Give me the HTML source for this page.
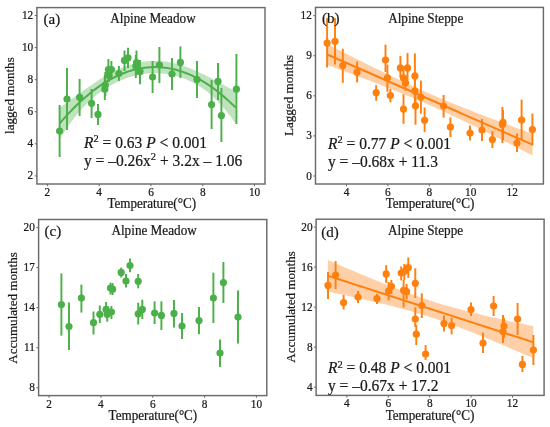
<!DOCTYPE html>
<html><head><meta charset="utf-8"><style>
html,body{margin:0;padding:0;background:#fff;width:550px;height:427px;overflow:hidden}
svg{display:block;will-change:transform}
text{font-family:"Liberation Serif",serif;fill:#1a1a1a;stroke:#1a1a1a;stroke-width:0.22px}
.tk{font-size:11.3px}
.ti{font-size:13.2px}
.pl{font-size:15px}
.ax{font-size:13.1px}
.eq{font-size:15.5px}
</style></head><body>
<svg width="550" height="427" viewBox="0 0 550 427">
<rect width="550" height="427" fill="#fff"/>
<rect x="36.9" y="7.6" width="228.10" height="176.40" fill="none" stroke="#6a6a6a" stroke-width="1.45"/>
<line x1="47.40" y1="184.0" x2="47.40" y2="186.2" stroke="#6a6a6a" stroke-width="1"/>
<line x1="99.18" y1="184.0" x2="99.18" y2="186.2" stroke="#6a6a6a" stroke-width="1"/>
<line x1="150.96" y1="184.0" x2="150.96" y2="186.2" stroke="#6a6a6a" stroke-width="1"/>
<line x1="202.74" y1="184.0" x2="202.74" y2="186.2" stroke="#6a6a6a" stroke-width="1"/>
<line x1="254.52" y1="184.0" x2="254.52" y2="186.2" stroke="#6a6a6a" stroke-width="1"/>
<line x1="34.699999999999996" y1="175.90" x2="36.9" y2="175.90" stroke="#6a6a6a" stroke-width="1"/>
<line x1="34.699999999999996" y1="143.82" x2="36.9" y2="143.82" stroke="#6a6a6a" stroke-width="1"/>
<line x1="34.699999999999996" y1="111.74" x2="36.9" y2="111.74" stroke="#6a6a6a" stroke-width="1"/>
<line x1="34.699999999999996" y1="79.66" x2="36.9" y2="79.66" stroke="#6a6a6a" stroke-width="1"/>
<line x1="34.699999999999996" y1="47.58" x2="36.9" y2="47.58" stroke="#6a6a6a" stroke-width="1"/>
<line x1="34.699999999999996" y1="15.50" x2="36.9" y2="15.50" stroke="#6a6a6a" stroke-width="1"/>
<polygon points="59.57,107.94 62.50,105.79 65.44,103.64 68.37,101.49 71.31,99.35 74.24,97.21 77.17,95.08 80.11,92.95 83.04,90.85 85.98,88.76 88.91,86.70 91.84,84.67 94.78,82.68 97.71,80.74 100.65,78.86 103.58,77.05 106.52,75.31 109.45,73.66 112.38,72.09 115.32,70.62 118.25,69.24 121.19,67.96 124.12,66.79 127.05,65.72 129.99,64.76 132.92,63.90 135.86,63.15 138.79,62.51 141.73,61.97 144.66,61.54 147.59,61.22 150.53,61.01 153.46,60.90 156.40,60.90 159.33,61.01 162.27,61.22 165.20,61.54 168.13,61.96 171.07,62.50 174.00,63.13 176.94,63.87 179.87,64.71 182.80,65.64 185.74,66.66 188.67,67.77 191.61,68.96 194.54,70.22 197.48,71.55 200.41,72.93 203.34,74.36 206.28,75.83 209.21,77.33 212.15,78.85 215.08,80.39 218.02,81.94 220.95,83.50 223.88,85.07 226.82,86.64 229.75,88.21 232.69,89.79 235.62,91.36 235.62,123.73 232.69,119.52 229.75,115.52 226.82,111.74 223.88,108.17 220.95,104.81 218.02,101.66 215.08,98.72 212.15,95.97 209.21,93.42 206.28,91.06 203.34,88.89 200.41,86.89 197.48,85.06 194.54,83.39 191.61,81.87 188.67,80.49 185.74,79.24 182.80,78.12 179.87,77.13 176.94,76.25 174.00,75.49 171.07,74.84 168.13,74.30 165.20,73.87 162.27,73.55 159.33,73.33 156.40,73.23 153.46,73.23 150.53,73.34 147.59,73.55 144.66,73.87 141.73,74.30 138.79,74.84 135.86,75.48 132.92,76.23 129.99,77.09 127.05,78.06 124.12,79.13 121.19,80.32 118.25,81.61 115.32,83.02 112.38,84.55 109.45,86.20 106.52,87.97 103.58,89.88 100.65,91.92 97.71,94.12 94.78,96.46 91.84,98.98 88.91,101.66 85.98,104.53 83.04,107.58 80.11,110.83 77.17,114.28 74.24,117.94 71.31,121.80 68.37,125.87 65.44,130.15 62.50,134.64 59.57,139.35" fill="#4bb049" fill-opacity="0.35"/>
<line x1="59.6" y1="105" x2="59.6" y2="157" stroke="#4bb049" stroke-width="1.95"/>
<line x1="67" y1="68" x2="67" y2="130" stroke="#4bb049" stroke-width="1.95"/>
<line x1="79.6" y1="79" x2="79.6" y2="116" stroke="#4bb049" stroke-width="1.95"/>
<line x1="91.6" y1="89" x2="91.6" y2="118" stroke="#4bb049" stroke-width="1.95"/>
<line x1="98" y1="104" x2="98" y2="125" stroke="#4bb049" stroke-width="1.95"/>
<line x1="104.8" y1="75" x2="104.8" y2="100" stroke="#4bb049" stroke-width="1.95"/>
<line x1="105.3" y1="72" x2="105.3" y2="96" stroke="#4bb049" stroke-width="1.95"/>
<line x1="108.4" y1="59" x2="108.4" y2="80" stroke="#4bb049" stroke-width="1.95"/>
<line x1="111.4" y1="61" x2="111.4" y2="78" stroke="#4bb049" stroke-width="1.95"/>
<line x1="108.8" y1="66" x2="108.8" y2="82" stroke="#4bb049" stroke-width="1.95"/>
<line x1="118.9" y1="66" x2="118.9" y2="81" stroke="#4bb049" stroke-width="1.95"/>
<line x1="124.5" y1="50.5" x2="124.5" y2="71" stroke="#4bb049" stroke-width="1.95"/>
<line x1="128" y1="47.7" x2="128" y2="68" stroke="#4bb049" stroke-width="1.95"/>
<line x1="136.5" y1="50.5" x2="136.5" y2="75" stroke="#4bb049" stroke-width="1.95"/>
<line x1="135.8" y1="55" x2="135.8" y2="78" stroke="#4bb049" stroke-width="1.95"/>
<line x1="140" y1="60" x2="140" y2="84.3" stroke="#4bb049" stroke-width="1.95"/>
<line x1="152.6" y1="61" x2="152.6" y2="93" stroke="#4bb049" stroke-width="1.95"/>
<line x1="159.4" y1="47" x2="159.4" y2="83" stroke="#4bb049" stroke-width="1.95"/>
<line x1="172" y1="58" x2="172" y2="90" stroke="#4bb049" stroke-width="1.95"/>
<line x1="180.4" y1="46.4" x2="180.4" y2="78" stroke="#4bb049" stroke-width="1.95"/>
<line x1="197" y1="61" x2="197" y2="98" stroke="#4bb049" stroke-width="1.95"/>
<line x1="211.6" y1="80" x2="211.6" y2="129" stroke="#4bb049" stroke-width="1.95"/>
<line x1="218" y1="63" x2="218" y2="100" stroke="#4bb049" stroke-width="1.95"/>
<line x1="221.4" y1="88" x2="221.4" y2="142" stroke="#4bb049" stroke-width="1.95"/>
<line x1="236.4" y1="54" x2="236.4" y2="124" stroke="#4bb049" stroke-width="1.95"/>
<circle cx="59.6" cy="131" r="3.6" fill="#4bb049"/>
<circle cx="67" cy="99" r="3.6" fill="#4bb049"/>
<circle cx="79.6" cy="97.3" r="3.6" fill="#4bb049"/>
<circle cx="91.6" cy="103.3" r="3.6" fill="#4bb049"/>
<circle cx="98" cy="114.4" r="3.6" fill="#4bb049"/>
<circle cx="104.8" cy="89.2" r="3.6" fill="#4bb049"/>
<circle cx="105.3" cy="85" r="3.6" fill="#4bb049"/>
<circle cx="108.4" cy="69.5" r="3.6" fill="#4bb049"/>
<circle cx="111.4" cy="69.5" r="3.6" fill="#4bb049"/>
<circle cx="108.8" cy="75.2" r="3.6" fill="#4bb049"/>
<circle cx="118.9" cy="73.5" r="3.6" fill="#4bb049"/>
<circle cx="124.5" cy="60.4" r="3.6" fill="#4bb049"/>
<circle cx="128" cy="57.8" r="3.6" fill="#4bb049"/>
<circle cx="136.5" cy="62.5" r="3.6" fill="#4bb049"/>
<circle cx="135.8" cy="66" r="3.6" fill="#4bb049"/>
<circle cx="140" cy="71.6" r="3.6" fill="#4bb049"/>
<circle cx="152.6" cy="77" r="3.6" fill="#4bb049"/>
<circle cx="159.4" cy="65" r="3.6" fill="#4bb049"/>
<circle cx="172" cy="74" r="3.6" fill="#4bb049"/>
<circle cx="180.4" cy="62.4" r="3.6" fill="#4bb049"/>
<circle cx="197" cy="79.6" r="3.6" fill="#4bb049"/>
<circle cx="211.6" cy="104.6" r="3.6" fill="#4bb049"/>
<circle cx="218" cy="81.4" r="3.6" fill="#4bb049"/>
<circle cx="221.4" cy="115.6" r="3.6" fill="#4bb049"/>
<circle cx="236.4" cy="89.2" r="3.6" fill="#4bb049"/>
<polyline points="59.57,123.65 62.50,120.22 65.44,116.90 68.37,113.68 71.31,110.57 74.24,107.57 77.17,104.68 80.11,101.89 83.04,99.22 85.98,96.64 88.91,94.18 91.84,91.82 94.78,89.57 97.71,87.43 100.65,85.39 103.58,83.46 106.52,81.64 109.45,79.93 112.38,78.32 115.32,76.82 118.25,75.43 121.19,74.14 124.12,72.96 127.05,71.89 129.99,70.92 132.92,70.07 135.86,69.32 138.79,68.67 141.73,68.14 144.66,67.71 147.59,67.39 150.53,67.17 153.46,67.06 156.40,67.06 159.33,67.17 162.27,67.38 165.20,67.70 168.13,68.13 171.07,68.67 174.00,69.31 176.94,70.06 179.87,70.92 182.80,71.88 185.74,72.95 188.67,74.13 191.61,75.41 194.54,76.81 197.48,78.31 200.41,79.91 203.34,81.63 206.28,83.45 209.21,85.37 212.15,87.41 215.08,89.55 218.02,91.80 220.95,94.16 223.88,96.62 226.82,99.19 229.75,101.87 232.69,104.65 235.62,107.55" fill="none" stroke="#4bb049" stroke-width="2"/>
<rect x="315.5" y="7.4" width="227.90" height="176.60" fill="none" stroke="#6a6a6a" stroke-width="1.45"/>
<line x1="346.50" y1="184.0" x2="346.50" y2="186.2" stroke="#6a6a6a" stroke-width="1"/>
<line x1="387.92" y1="184.0" x2="387.92" y2="186.2" stroke="#6a6a6a" stroke-width="1"/>
<line x1="429.34" y1="184.0" x2="429.34" y2="186.2" stroke="#6a6a6a" stroke-width="1"/>
<line x1="470.76" y1="184.0" x2="470.76" y2="186.2" stroke="#6a6a6a" stroke-width="1"/>
<line x1="512.18" y1="184.0" x2="512.18" y2="186.2" stroke="#6a6a6a" stroke-width="1"/>
<line x1="313.3" y1="176.00" x2="315.5" y2="176.00" stroke="#6a6a6a" stroke-width="1"/>
<line x1="313.3" y1="135.92" x2="315.5" y2="135.92" stroke="#6a6a6a" stroke-width="1"/>
<line x1="313.3" y1="95.84" x2="315.5" y2="95.84" stroke="#6a6a6a" stroke-width="1"/>
<line x1="313.3" y1="55.76" x2="315.5" y2="55.76" stroke="#6a6a6a" stroke-width="1"/>
<line x1="313.3" y1="15.68" x2="315.5" y2="15.68" stroke="#6a6a6a" stroke-width="1"/>
<polygon points="327.24,44.01 330.66,45.76 334.08,47.51 337.50,49.25 340.92,50.99 344.34,52.73 347.76,54.46 351.18,56.19 354.60,57.91 358.03,59.63 361.45,61.35 364.87,63.06 368.29,64.76 371.71,66.46 375.13,68.15 378.55,69.83 381.97,71.51 385.39,73.17 388.81,74.83 392.23,76.47 395.65,78.11 399.07,79.73 402.49,81.35 405.91,82.95 409.33,84.53 412.75,86.10 416.18,87.66 419.60,89.20 423.02,90.73 426.44,92.24 429.86,93.74 433.28,95.22 436.70,96.69 440.12,98.14 443.54,99.57 446.96,100.99 450.38,102.40 453.80,103.80 457.22,105.18 460.64,106.55 464.06,107.91 467.48,109.26 470.90,110.60 474.33,111.93 477.75,113.25 481.17,114.57 484.59,115.88 488.01,117.18 491.43,118.47 494.85,119.76 498.27,121.04 501.69,122.32 505.11,123.60 508.53,124.86 511.95,126.13 515.37,127.39 518.79,128.65 522.21,129.91 525.63,131.16 529.06,132.41 532.48,133.66 532.48,155.45 529.06,153.70 525.63,151.95 522.21,150.20 518.79,148.46 515.37,146.71 511.95,144.97 508.53,143.24 505.11,141.51 501.69,139.78 498.27,138.06 494.85,136.34 491.43,134.63 488.01,132.92 484.59,131.22 481.17,129.53 477.75,127.84 474.33,126.16 470.90,124.49 467.48,122.83 464.06,121.18 460.64,119.54 457.22,117.91 453.80,116.29 450.38,114.68 446.96,113.09 443.54,111.51 440.12,109.95 436.70,108.40 433.28,106.86 429.86,105.34 426.44,103.84 423.02,102.35 419.60,100.87 416.18,99.42 412.75,97.97 409.33,96.54 405.91,95.13 402.49,93.73 399.07,92.34 395.65,90.96 392.23,89.60 388.81,88.24 385.39,86.90 381.97,85.56 378.55,84.23 375.13,82.92 371.71,81.61 368.29,80.30 364.87,79.00 361.45,77.71 358.03,76.43 354.60,75.15 351.18,73.87 347.76,72.60 344.34,71.33 340.92,70.07 337.50,68.80 334.08,67.55 330.66,66.29 327.24,65.04" fill="#ff7f0f" fill-opacity="0.37"/>
<line x1="327.1" y1="18.1" x2="327.1" y2="67.5" stroke="#ff7f0f" stroke-width="1.95"/>
<line x1="335" y1="18.1" x2="335" y2="64.6" stroke="#ff7f0f" stroke-width="1.95"/>
<line x1="342.8" y1="48.7" x2="342.8" y2="82.8" stroke="#ff7f0f" stroke-width="1.95"/>
<line x1="357.1" y1="61.5" x2="357.1" y2="82.4" stroke="#ff7f0f" stroke-width="1.95"/>
<line x1="376.2" y1="85.2" x2="376.2" y2="100.8" stroke="#ff7f0f" stroke-width="1.95"/>
<line x1="385.5" y1="44.6" x2="385.5" y2="72" stroke="#ff7f0f" stroke-width="1.95"/>
<line x1="387.4" y1="64.6" x2="387.4" y2="91.8" stroke="#ff7f0f" stroke-width="1.95"/>
<line x1="390.4" y1="89" x2="390.4" y2="102.3" stroke="#ff7f0f" stroke-width="1.95"/>
<line x1="400.4" y1="56" x2="400.4" y2="77.9" stroke="#ff7f0f" stroke-width="1.95"/>
<line x1="403.5" y1="70" x2="403.5" y2="86" stroke="#ff7f0f" stroke-width="1.95"/>
<line x1="403.5" y1="94.4" x2="403.5" y2="123.7" stroke="#ff7f0f" stroke-width="1.95"/>
<line x1="405.5" y1="76" x2="405.5" y2="90.8" stroke="#ff7f0f" stroke-width="1.95"/>
<line x1="407.5" y1="53" x2="407.5" y2="80" stroke="#ff7f0f" stroke-width="1.95"/>
<line x1="414.9" y1="53.4" x2="414.9" y2="95" stroke="#ff7f0f" stroke-width="1.95"/>
<line x1="414.9" y1="80" x2="414.9" y2="105" stroke="#ff7f0f" stroke-width="1.95"/>
<line x1="415.5" y1="95" x2="415.5" y2="124.7" stroke="#ff7f0f" stroke-width="1.95"/>
<line x1="420.9" y1="80.5" x2="420.9" y2="113.7" stroke="#ff7f0f" stroke-width="1.95"/>
<line x1="424.6" y1="107.5" x2="424.6" y2="132" stroke="#ff7f0f" stroke-width="1.95"/>
<line x1="443.6" y1="95" x2="443.6" y2="117.6" stroke="#ff7f0f" stroke-width="1.95"/>
<line x1="450.4" y1="117.6" x2="450.4" y2="137" stroke="#ff7f0f" stroke-width="1.95"/>
<line x1="470" y1="125.6" x2="470" y2="140.4" stroke="#ff7f0f" stroke-width="1.95"/>
<line x1="482" y1="119" x2="482" y2="141" stroke="#ff7f0f" stroke-width="1.95"/>
<line x1="492.4" y1="131" x2="492.4" y2="148" stroke="#ff7f0f" stroke-width="1.95"/>
<line x1="502.4" y1="107" x2="502.4" y2="143" stroke="#ff7f0f" stroke-width="1.95"/>
<line x1="503" y1="110" x2="503" y2="140" stroke="#ff7f0f" stroke-width="1.95"/>
<line x1="517" y1="133.6" x2="517" y2="152" stroke="#ff7f0f" stroke-width="1.95"/>
<line x1="521.6" y1="99.6" x2="521.6" y2="140" stroke="#ff7f0f" stroke-width="1.95"/>
<line x1="532.4" y1="113.6" x2="532.4" y2="145.6" stroke="#ff7f0f" stroke-width="1.95"/>
<circle cx="327.1" cy="43.1" r="3.6" fill="#ff7f0f"/>
<circle cx="335" cy="41.3" r="3.6" fill="#ff7f0f"/>
<circle cx="342.8" cy="65.6" r="3.6" fill="#ff7f0f"/>
<circle cx="357.1" cy="72.1" r="3.6" fill="#ff7f0f"/>
<circle cx="376.2" cy="92.7" r="3.6" fill="#ff7f0f"/>
<circle cx="385.5" cy="60" r="3.6" fill="#ff7f0f"/>
<circle cx="387.4" cy="77.8" r="3.6" fill="#ff7f0f"/>
<circle cx="390.4" cy="95.5" r="3.6" fill="#ff7f0f"/>
<circle cx="400.4" cy="67.9" r="3.6" fill="#ff7f0f"/>
<circle cx="403.5" cy="77.9" r="3.6" fill="#ff7f0f"/>
<circle cx="403.5" cy="109.1" r="3.6" fill="#ff7f0f"/>
<circle cx="405.5" cy="82.8" r="3.6" fill="#ff7f0f"/>
<circle cx="407.5" cy="67.9" r="3.6" fill="#ff7f0f"/>
<circle cx="414.9" cy="75.9" r="3.6" fill="#ff7f0f"/>
<circle cx="414.9" cy="90.8" r="3.6" fill="#ff7f0f"/>
<circle cx="415.5" cy="105.8" r="3.6" fill="#ff7f0f"/>
<circle cx="420.9" cy="97.2" r="3.6" fill="#ff7f0f"/>
<circle cx="424.6" cy="120.3" r="3.6" fill="#ff7f0f"/>
<circle cx="443.6" cy="106" r="3.6" fill="#ff7f0f"/>
<circle cx="450.4" cy="127" r="3.6" fill="#ff7f0f"/>
<circle cx="470" cy="133" r="3.6" fill="#ff7f0f"/>
<circle cx="482" cy="130" r="3.6" fill="#ff7f0f"/>
<circle cx="492.4" cy="139.6" r="3.6" fill="#ff7f0f"/>
<circle cx="502.4" cy="124.4" r="3.6" fill="#ff7f0f"/>
<circle cx="503" cy="122.4" r="3.6" fill="#ff7f0f"/>
<circle cx="517" cy="143" r="3.6" fill="#ff7f0f"/>
<circle cx="521.6" cy="120" r="3.6" fill="#ff7f0f"/>
<circle cx="532.4" cy="129.6" r="3.6" fill="#ff7f0f"/>
<polyline points="327.24,54.53 330.66,56.03 334.08,57.53 337.50,59.03 340.92,60.53 344.34,62.03 347.76,63.53 351.18,65.03 354.60,66.53 358.03,68.03 361.45,69.53 364.87,71.03 368.29,72.53 371.71,74.03 375.13,75.53 378.55,77.03 381.97,78.53 385.39,80.03 388.81,81.53 392.23,83.04 395.65,84.54 399.07,86.04 402.49,87.54 405.91,89.04 409.33,90.54 412.75,92.04 416.18,93.54 419.60,95.04 423.02,96.54 426.44,98.04 429.86,99.54 433.28,101.04 436.70,102.54 440.12,104.04 443.54,105.54 446.96,107.04 450.38,108.54 453.80,110.04 457.22,111.54 460.64,113.05 464.06,114.55 467.48,116.05 470.90,117.55 474.33,119.05 477.75,120.55 481.17,122.05 484.59,123.55 488.01,125.05 491.43,126.55 494.85,128.05 498.27,129.55 501.69,131.05 505.11,132.55 508.53,134.05 511.95,135.55 515.37,137.05 518.79,138.55 522.21,140.05 525.63,141.55 529.06,143.06 532.48,144.56" fill="none" stroke="#ff7f0f" stroke-width="2"/>
<rect x="38.6" y="219.5" width="228.20" height="176.10" fill="none" stroke="#6a6a6a" stroke-width="1.45"/>
<line x1="49.10" y1="395.6" x2="49.10" y2="397.8" stroke="#6a6a6a" stroke-width="1"/>
<line x1="100.92" y1="395.6" x2="100.92" y2="397.8" stroke="#6a6a6a" stroke-width="1"/>
<line x1="152.74" y1="395.6" x2="152.74" y2="397.8" stroke="#6a6a6a" stroke-width="1"/>
<line x1="204.56" y1="395.6" x2="204.56" y2="397.8" stroke="#6a6a6a" stroke-width="1"/>
<line x1="256.38" y1="395.6" x2="256.38" y2="397.8" stroke="#6a6a6a" stroke-width="1"/>
<line x1="36.4" y1="387.80" x2="38.6" y2="387.80" stroke="#6a6a6a" stroke-width="1"/>
<line x1="36.4" y1="347.75" x2="38.6" y2="347.75" stroke="#6a6a6a" stroke-width="1"/>
<line x1="36.4" y1="307.70" x2="38.6" y2="307.70" stroke="#6a6a6a" stroke-width="1"/>
<line x1="36.4" y1="267.65" x2="38.6" y2="267.65" stroke="#6a6a6a" stroke-width="1"/>
<line x1="36.4" y1="227.60" x2="38.6" y2="227.60" stroke="#6a6a6a" stroke-width="1"/>
<line x1="61.4" y1="273.4" x2="61.4" y2="335.6" stroke="#4bb049" stroke-width="1.95"/>
<line x1="69" y1="302.6" x2="69" y2="350" stroke="#4bb049" stroke-width="1.95"/>
<line x1="81.4" y1="284.6" x2="81.4" y2="312.6" stroke="#4bb049" stroke-width="1.95"/>
<line x1="93.5" y1="311.5" x2="93.5" y2="334.5" stroke="#4bb049" stroke-width="1.95"/>
<line x1="99.8" y1="305.5" x2="99.8" y2="323" stroke="#4bb049" stroke-width="1.95"/>
<line x1="106.1" y1="302" x2="106.1" y2="317" stroke="#4bb049" stroke-width="1.95"/>
<line x1="107.2" y1="306" x2="107.2" y2="321.7" stroke="#4bb049" stroke-width="1.95"/>
<line x1="110.5" y1="282.7" x2="110.5" y2="294.5" stroke="#4bb049" stroke-width="1.95"/>
<line x1="111.4" y1="306" x2="111.4" y2="319" stroke="#4bb049" stroke-width="1.95"/>
<line x1="112.6" y1="283" x2="112.6" y2="295" stroke="#4bb049" stroke-width="1.95"/>
<line x1="121.2" y1="267.6" x2="121.2" y2="277.5" stroke="#4bb049" stroke-width="1.95"/>
<line x1="126" y1="274" x2="126" y2="287.5" stroke="#4bb049" stroke-width="1.95"/>
<line x1="130" y1="258.5" x2="130" y2="272.2" stroke="#4bb049" stroke-width="1.95"/>
<line x1="138.2" y1="274" x2="138.2" y2="288.3" stroke="#4bb049" stroke-width="1.95"/>
<line x1="138.2" y1="302.7" x2="138.2" y2="324.5" stroke="#4bb049" stroke-width="1.95"/>
<line x1="142.3" y1="299.7" x2="142.3" y2="319" stroke="#4bb049" stroke-width="1.95"/>
<line x1="154.6" y1="301.4" x2="154.6" y2="324" stroke="#4bb049" stroke-width="1.95"/>
<line x1="161.4" y1="301.4" x2="161.4" y2="330" stroke="#4bb049" stroke-width="1.95"/>
<line x1="174" y1="300" x2="174" y2="327.6" stroke="#4bb049" stroke-width="1.95"/>
<line x1="182" y1="313" x2="182" y2="339" stroke="#4bb049" stroke-width="1.95"/>
<line x1="199" y1="307" x2="199" y2="334.3" stroke="#4bb049" stroke-width="1.95"/>
<line x1="213.4" y1="272.6" x2="213.4" y2="323" stroke="#4bb049" stroke-width="1.95"/>
<line x1="220" y1="339.6" x2="220" y2="367" stroke="#4bb049" stroke-width="1.95"/>
<line x1="223.4" y1="262" x2="223.4" y2="303" stroke="#4bb049" stroke-width="1.95"/>
<line x1="238" y1="290.6" x2="238" y2="343.6" stroke="#4bb049" stroke-width="1.95"/>
<circle cx="61.4" cy="304.6" r="3.6" fill="#4bb049"/>
<circle cx="69" cy="326.5" r="3.6" fill="#4bb049"/>
<circle cx="81.4" cy="298" r="3.6" fill="#4bb049"/>
<circle cx="93.5" cy="322.7" r="3.6" fill="#4bb049"/>
<circle cx="99.8" cy="314.3" r="3.6" fill="#4bb049"/>
<circle cx="106.1" cy="309.4" r="3.6" fill="#4bb049"/>
<circle cx="107.2" cy="314.3" r="3.6" fill="#4bb049"/>
<circle cx="110.5" cy="288" r="3.6" fill="#4bb049"/>
<circle cx="111.4" cy="312" r="3.6" fill="#4bb049"/>
<circle cx="112.6" cy="289.2" r="3.6" fill="#4bb049"/>
<circle cx="121.2" cy="272.4" r="3.6" fill="#4bb049"/>
<circle cx="126" cy="281" r="3.6" fill="#4bb049"/>
<circle cx="130" cy="265.5" r="3.6" fill="#4bb049"/>
<circle cx="138.2" cy="281.3" r="3.6" fill="#4bb049"/>
<circle cx="138.2" cy="313.8" r="3.6" fill="#4bb049"/>
<circle cx="142.3" cy="309.4" r="3.6" fill="#4bb049"/>
<circle cx="154.6" cy="313" r="3.6" fill="#4bb049"/>
<circle cx="161.4" cy="315.4" r="3.6" fill="#4bb049"/>
<circle cx="174" cy="313.4" r="3.6" fill="#4bb049"/>
<circle cx="182" cy="326" r="3.6" fill="#4bb049"/>
<circle cx="199" cy="320.6" r="3.6" fill="#4bb049"/>
<circle cx="213.4" cy="298" r="3.6" fill="#4bb049"/>
<circle cx="220" cy="353" r="3.6" fill="#4bb049"/>
<circle cx="223.4" cy="282.6" r="3.6" fill="#4bb049"/>
<circle cx="238" cy="317" r="3.6" fill="#4bb049"/>
<rect x="316.1" y="219.2" width="228.00" height="176.20" fill="none" stroke="#6a6a6a" stroke-width="1.45"/>
<line x1="346.90" y1="395.4" x2="346.90" y2="397.59999999999997" stroke="#6a6a6a" stroke-width="1"/>
<line x1="388.30" y1="395.4" x2="388.30" y2="397.59999999999997" stroke="#6a6a6a" stroke-width="1"/>
<line x1="429.70" y1="395.4" x2="429.70" y2="397.59999999999997" stroke="#6a6a6a" stroke-width="1"/>
<line x1="471.10" y1="395.4" x2="471.10" y2="397.59999999999997" stroke="#6a6a6a" stroke-width="1"/>
<line x1="512.50" y1="395.4" x2="512.50" y2="397.59999999999997" stroke="#6a6a6a" stroke-width="1"/>
<line x1="313.90000000000003" y1="387.10" x2="316.1" y2="387.10" stroke="#6a6a6a" stroke-width="1"/>
<line x1="313.90000000000003" y1="347.10" x2="316.1" y2="347.10" stroke="#6a6a6a" stroke-width="1"/>
<line x1="313.90000000000003" y1="307.10" x2="316.1" y2="307.10" stroke="#6a6a6a" stroke-width="1"/>
<line x1="313.90000000000003" y1="267.10" x2="316.1" y2="267.10" stroke="#6a6a6a" stroke-width="1"/>
<line x1="313.90000000000003" y1="227.10" x2="316.1" y2="227.10" stroke="#6a6a6a" stroke-width="1"/>
<polygon points="327.86,260.02 331.28,261.50 334.70,262.99 338.12,264.47 341.55,265.95 344.97,267.42 348.39,268.89 351.81,270.35 355.24,271.80 358.66,273.25 362.08,274.69 365.50,276.12 368.92,277.55 372.35,278.96 375.77,280.37 379.19,281.77 382.61,283.15 386.04,284.52 389.46,285.88 392.88,287.22 396.30,288.55 399.73,289.86 403.15,291.15 406.57,292.43 409.99,293.68 413.42,294.91 416.84,296.12 420.26,297.31 423.68,298.47 427.11,299.61 430.53,300.72 433.95,301.81 437.37,302.88 440.80,303.92 444.22,304.93 447.64,305.93 451.06,306.90 454.48,307.86 457.91,308.79 461.33,309.70 464.75,310.60 468.17,311.48 471.60,312.35 475.02,313.20 478.44,314.03 481.86,314.86 485.29,315.68 488.71,316.48 492.13,317.27 495.55,318.06 498.98,318.84 502.40,319.61 505.82,320.37 509.24,321.13 512.67,321.88 516.09,322.63 519.51,323.37 522.93,324.11 526.36,324.84 529.78,325.57 533.20,326.29 533.20,358.11 529.78,356.62 526.36,355.13 522.93,353.65 519.51,352.17 516.09,350.69 512.67,349.22 509.24,347.76 505.82,346.30 502.40,344.85 498.98,343.41 495.55,341.97 492.13,340.54 488.71,339.12 485.29,337.71 481.86,336.31 478.44,334.92 475.02,333.54 471.60,332.18 468.17,330.83 464.75,329.49 461.33,328.17 457.91,326.87 454.48,325.59 451.06,324.33 447.64,323.08 444.22,321.86 440.80,320.67 437.37,319.49 433.95,318.34 430.53,317.21 427.11,316.11 423.68,315.04 420.26,313.98 416.84,312.95 413.42,311.95 409.99,310.96 406.57,310.00 403.15,309.06 399.73,308.14 396.30,307.23 392.88,306.34 389.46,305.47 386.04,304.61 382.61,303.77 379.19,302.94 375.77,302.12 372.35,301.31 368.92,300.51 365.50,299.72 362.08,298.94 358.66,298.16 355.24,297.39 351.81,296.63 348.39,295.88 344.97,295.13 341.55,294.39 338.12,293.65 334.70,292.91 331.28,292.18 327.86,291.46" fill="#ff7f0f" fill-opacity="0.37"/>
<line x1="328" y1="272" x2="328" y2="299" stroke="#ff7f0f" stroke-width="1.95"/>
<line x1="335.6" y1="261" x2="335.6" y2="289" stroke="#ff7f0f" stroke-width="1.95"/>
<line x1="343.6" y1="295" x2="343.6" y2="309.4" stroke="#ff7f0f" stroke-width="1.95"/>
<line x1="358" y1="291" x2="358" y2="303" stroke="#ff7f0f" stroke-width="1.95"/>
<line x1="377" y1="294" x2="377" y2="304" stroke="#ff7f0f" stroke-width="1.95"/>
<line x1="386.2" y1="265.2" x2="386.2" y2="282.8" stroke="#ff7f0f" stroke-width="1.95"/>
<line x1="388.6" y1="282" x2="388.6" y2="300.4" stroke="#ff7f0f" stroke-width="1.95"/>
<line x1="391.4" y1="280" x2="391.4" y2="294" stroke="#ff7f0f" stroke-width="1.95"/>
<line x1="401.2" y1="266.4" x2="401.2" y2="280.4" stroke="#ff7f0f" stroke-width="1.95"/>
<line x1="403.6" y1="280" x2="403.6" y2="307.4" stroke="#ff7f0f" stroke-width="1.95"/>
<line x1="404.3" y1="264" x2="404.3" y2="280" stroke="#ff7f0f" stroke-width="1.95"/>
<line x1="406.6" y1="284" x2="406.6" y2="299" stroke="#ff7f0f" stroke-width="1.95"/>
<line x1="408.3" y1="257.5" x2="408.3" y2="278" stroke="#ff7f0f" stroke-width="1.95"/>
<line x1="415.3" y1="268.3" x2="415.3" y2="298" stroke="#ff7f0f" stroke-width="1.95"/>
<line x1="415.3" y1="307.4" x2="415.3" y2="327" stroke="#ff7f0f" stroke-width="1.95"/>
<line x1="416.3" y1="325" x2="416.3" y2="345" stroke="#ff7f0f" stroke-width="1.95"/>
<line x1="421.8" y1="293.3" x2="421.8" y2="318" stroke="#ff7f0f" stroke-width="1.95"/>
<line x1="425.6" y1="345" x2="425.6" y2="360" stroke="#ff7f0f" stroke-width="1.95"/>
<line x1="444" y1="315.6" x2="444" y2="331.6" stroke="#ff7f0f" stroke-width="1.95"/>
<line x1="451.6" y1="317.6" x2="451.6" y2="334.4" stroke="#ff7f0f" stroke-width="1.95"/>
<line x1="471" y1="302.4" x2="471" y2="316" stroke="#ff7f0f" stroke-width="1.95"/>
<line x1="483" y1="332.4" x2="483" y2="353" stroke="#ff7f0f" stroke-width="1.95"/>
<line x1="493.6" y1="296" x2="493.6" y2="316" stroke="#ff7f0f" stroke-width="1.95"/>
<line x1="503" y1="315" x2="503" y2="343" stroke="#ff7f0f" stroke-width="1.95"/>
<line x1="504" y1="318" x2="504" y2="338" stroke="#ff7f0f" stroke-width="1.95"/>
<line x1="517.6" y1="303" x2="517.6" y2="335" stroke="#ff7f0f" stroke-width="1.95"/>
<line x1="522.4" y1="356" x2="522.4" y2="372" stroke="#ff7f0f" stroke-width="1.95"/>
<line x1="533.4" y1="335" x2="533.4" y2="365" stroke="#ff7f0f" stroke-width="1.95"/>
<circle cx="328" cy="285.4" r="3.6" fill="#ff7f0f"/>
<circle cx="335.6" cy="275" r="3.6" fill="#ff7f0f"/>
<circle cx="343.6" cy="302.6" r="3.6" fill="#ff7f0f"/>
<circle cx="358" cy="297" r="3.6" fill="#ff7f0f"/>
<circle cx="377" cy="298.6" r="3.6" fill="#ff7f0f"/>
<circle cx="386.2" cy="273.9" r="3.6" fill="#ff7f0f"/>
<circle cx="388.6" cy="291" r="3.6" fill="#ff7f0f"/>
<circle cx="391.4" cy="286.3" r="3.6" fill="#ff7f0f"/>
<circle cx="401.2" cy="273" r="3.6" fill="#ff7f0f"/>
<circle cx="403.6" cy="290.3" r="3.6" fill="#ff7f0f"/>
<circle cx="404.3" cy="271.5" r="3.6" fill="#ff7f0f"/>
<circle cx="406.6" cy="291.7" r="3.6" fill="#ff7f0f"/>
<circle cx="408.3" cy="267.6" r="3.6" fill="#ff7f0f"/>
<circle cx="415.3" cy="283.3" r="3.6" fill="#ff7f0f"/>
<circle cx="415.3" cy="319" r="3.6" fill="#ff7f0f"/>
<circle cx="416.3" cy="334.2" r="3.6" fill="#ff7f0f"/>
<circle cx="421.8" cy="305.5" r="3.6" fill="#ff7f0f"/>
<circle cx="425.6" cy="354" r="3.6" fill="#ff7f0f"/>
<circle cx="444" cy="323.6" r="3.6" fill="#ff7f0f"/>
<circle cx="451.6" cy="325.6" r="3.6" fill="#ff7f0f"/>
<circle cx="471" cy="309.6" r="3.6" fill="#ff7f0f"/>
<circle cx="483" cy="343" r="3.6" fill="#ff7f0f"/>
<circle cx="493.6" cy="306" r="3.6" fill="#ff7f0f"/>
<circle cx="503" cy="331.6" r="3.6" fill="#ff7f0f"/>
<circle cx="504" cy="326" r="3.6" fill="#ff7f0f"/>
<circle cx="517.6" cy="319" r="3.6" fill="#ff7f0f"/>
<circle cx="522.4" cy="364.4" r="3.6" fill="#ff7f0f"/>
<circle cx="533.4" cy="350" r="3.6" fill="#ff7f0f"/>
<polyline points="327.86,275.74 331.28,276.84 334.70,277.95 338.12,279.06 341.55,280.17 344.97,281.27 348.39,282.38 351.81,283.49 355.24,284.60 358.66,285.71 362.08,286.81 365.50,287.92 368.92,289.03 372.35,290.14 375.77,291.24 379.19,292.35 382.61,293.46 386.04,294.57 389.46,295.68 392.88,296.78 396.30,297.89 399.73,299.00 403.15,300.11 406.57,301.21 409.99,302.32 413.42,303.43 416.84,304.54 420.26,305.64 423.68,306.75 427.11,307.86 430.53,308.97 433.95,310.08 437.37,311.18 440.80,312.29 444.22,313.40 447.64,314.51 451.06,315.61 454.48,316.72 457.91,317.83 461.33,318.94 464.75,320.05 468.17,321.15 471.60,322.26 475.02,323.37 478.44,324.48 481.86,325.58 485.29,326.69 488.71,327.80 492.13,328.91 495.55,330.01 498.98,331.12 502.40,332.23 505.82,333.34 509.24,334.45 512.67,335.55 516.09,336.66 519.51,337.77 522.93,338.88 526.36,339.98 529.78,341.09 533.20,342.20" fill="none" stroke="#ff7f0f" stroke-width="2"/>
<text transform="translate(47.40,195.6) scale(1,1.08)" class="tk" text-anchor="middle">2</text>
<text transform="translate(99.18,195.6) scale(1,1.08)" class="tk" text-anchor="middle">4</text>
<text transform="translate(150.96,195.6) scale(1,1.08)" class="tk" text-anchor="middle">6</text>
<text transform="translate(202.74,195.6) scale(1,1.08)" class="tk" text-anchor="middle">8</text>
<text transform="translate(254.52,195.6) scale(1,1.08)" class="tk" text-anchor="middle">10</text>
<text transform="translate(33.2,179.40) scale(1,1.08)" class="tk" text-anchor="end">2</text>
<text transform="translate(33.2,147.32) scale(1,1.08)" class="tk" text-anchor="end">4</text>
<text transform="translate(33.2,115.24) scale(1,1.08)" class="tk" text-anchor="end">6</text>
<text transform="translate(33.2,83.16) scale(1,1.08)" class="tk" text-anchor="end">8</text>
<text transform="translate(33.2,51.08) scale(1,1.08)" class="tk" text-anchor="end">10</text>
<text transform="translate(33.2,19.00) scale(1,1.08)" class="tk" text-anchor="end">12</text>
<text transform="translate(346.50,195.8) scale(1,1.08)" class="tk" text-anchor="middle">4</text>
<text transform="translate(387.92,195.8) scale(1,1.08)" class="tk" text-anchor="middle">6</text>
<text transform="translate(429.34,195.8) scale(1,1.08)" class="tk" text-anchor="middle">8</text>
<text transform="translate(470.76,195.8) scale(1,1.08)" class="tk" text-anchor="middle">10</text>
<text transform="translate(512.18,195.8) scale(1,1.08)" class="tk" text-anchor="middle">12</text>
<text transform="translate(311.8,179.50) scale(1,1.08)" class="tk" text-anchor="end">0</text>
<text transform="translate(311.8,139.42) scale(1,1.08)" class="tk" text-anchor="end">3</text>
<text transform="translate(311.8,99.34) scale(1,1.08)" class="tk" text-anchor="end">6</text>
<text transform="translate(311.8,59.26) scale(1,1.08)" class="tk" text-anchor="end">9</text>
<text transform="translate(311.8,19.18) scale(1,1.08)" class="tk" text-anchor="end">12</text>
<text transform="translate(49.10,407.6) scale(1,1.08)" class="tk" text-anchor="middle">2</text>
<text transform="translate(100.92,407.6) scale(1,1.08)" class="tk" text-anchor="middle">4</text>
<text transform="translate(152.74,407.6) scale(1,1.08)" class="tk" text-anchor="middle">6</text>
<text transform="translate(204.56,407.6) scale(1,1.08)" class="tk" text-anchor="middle">8</text>
<text transform="translate(256.38,407.6) scale(1,1.08)" class="tk" text-anchor="middle">10</text>
<text transform="translate(34.9,391.30) scale(1,1.08)" class="tk" text-anchor="end">8</text>
<text transform="translate(34.9,351.25) scale(1,1.08)" class="tk" text-anchor="end">11</text>
<text transform="translate(34.9,311.20) scale(1,1.08)" class="tk" text-anchor="end">14</text>
<text transform="translate(34.9,271.15) scale(1,1.08)" class="tk" text-anchor="end">17</text>
<text transform="translate(34.9,231.10) scale(1,1.08)" class="tk" text-anchor="end">20</text>
<text transform="translate(346.90,407.4) scale(1,1.08)" class="tk" text-anchor="middle">4</text>
<text transform="translate(388.30,407.4) scale(1,1.08)" class="tk" text-anchor="middle">6</text>
<text transform="translate(429.70,407.4) scale(1,1.08)" class="tk" text-anchor="middle">8</text>
<text transform="translate(471.10,407.4) scale(1,1.08)" class="tk" text-anchor="middle">10</text>
<text transform="translate(512.50,407.4) scale(1,1.08)" class="tk" text-anchor="middle">12</text>
<text transform="translate(312.6,390.60) scale(1,1.08)" class="tk" text-anchor="end">4</text>
<text transform="translate(312.6,350.60) scale(1,1.08)" class="tk" text-anchor="end">8</text>
<text transform="translate(312.6,310.60) scale(1,1.08)" class="tk" text-anchor="end">12</text>
<text transform="translate(312.6,270.60) scale(1,1.08)" class="tk" text-anchor="end">16</text>
<text transform="translate(312.6,230.60) scale(1,1.08)" class="tk" text-anchor="end">20</text>
<text transform="translate(153.0,23.0) scale(1,1.07)" class="ti" text-anchor="middle">Alpine Meadow</text>
<text transform="translate(425.7,23.0) scale(1,1.07)" class="ti" text-anchor="middle">Alpine Steppe</text>
<text transform="translate(154.1,235.0) scale(1,1.07)" class="ti" text-anchor="middle">Alpine Meadow</text>
<text transform="translate(425.6,235.0) scale(1,1.07)" class="ti" text-anchor="middle">Alpine Steppe</text>
<text transform="translate(43.5,23.6) scale(1,1.0)" class="pl" >(a)</text>
<text transform="translate(322.0,23.4) scale(1,1.0)" class="pl" >(b)</text>
<text transform="translate(44.6,236.0) scale(1,1.0)" class="pl" >(c)</text>
<text transform="translate(321.3,236.5) scale(1,1.0)" class="pl" >(d)</text>
<text transform="translate(151.7,208.2) scale(1,1.07)" class="ax" text-anchor="middle">Temperature(°C)</text>
<text transform="translate(430.0,208.0) scale(1,1.07)" class="ax" text-anchor="middle">Temperature(°C)</text>
<text transform="translate(152.9,419.8) scale(1,1.07)" class="ax" text-anchor="middle">Temperature(°C)</text>
<text transform="translate(430.0,419.8) scale(1,1.07)" class="ax" text-anchor="middle">Temperature(°C)</text>
<text transform="translate(14.0,95.6) rotate(-90) scale(1,0.95)" class="ax" text-anchor="middle">lagged months</text>
<text transform="translate(292.8,95.5) rotate(-90) scale(1,0.95)" class="ax" text-anchor="middle">Lagged months</text>
<text transform="translate(16.8,307.9) rotate(-90) scale(1,0.95)" class="ax" text-anchor="middle">Accumulated months</text>
<text transform="translate(295.2,306.9) rotate(-90) scale(1,0.95)" class="ax" text-anchor="middle">Accumulated months</text>
<text transform="translate(84.0,147.5) scale(1,1.07)" class="eq" ><tspan font-style="italic">R</tspan><tspan dy="-5.2" font-size="10.5">2</tspan><tspan dy="5.2"> = 0.63 </tspan><tspan font-style="italic">P</tspan> &lt; 0.001</text>
<text transform="translate(84.0,165.8) scale(1,1.07)" class="eq" >y = –0.26x<tspan dy="-5.2" font-size="10.5">2</tspan><tspan dy="5.2"> + 3.2x – 1.06</tspan></text>
<text transform="translate(328.0,148.8) scale(1,1.07)" class="eq" ><tspan font-style="italic">R</tspan><tspan dy="-5.2" font-size="10.5">2</tspan><tspan dy="5.2"> = 0.77 </tspan><tspan font-style="italic">P</tspan> &lt; 0.001</text>
<text transform="translate(328.0,166.5) scale(1,1.07)" class="eq" >y = –0.68x + 11.3</text>
<text transform="translate(328.0,373.3) scale(1,1.07)" class="eq" ><tspan font-style="italic">R</tspan><tspan dy="-5.2" font-size="10.5">2</tspan><tspan dy="5.2"> = 0.48 </tspan><tspan font-style="italic">P</tspan> &lt; 0.001</text>
<text transform="translate(328.0,391.2) scale(1,1.07)" class="eq" >y = –0.67x + 17.2</text>
</svg></body></html>
